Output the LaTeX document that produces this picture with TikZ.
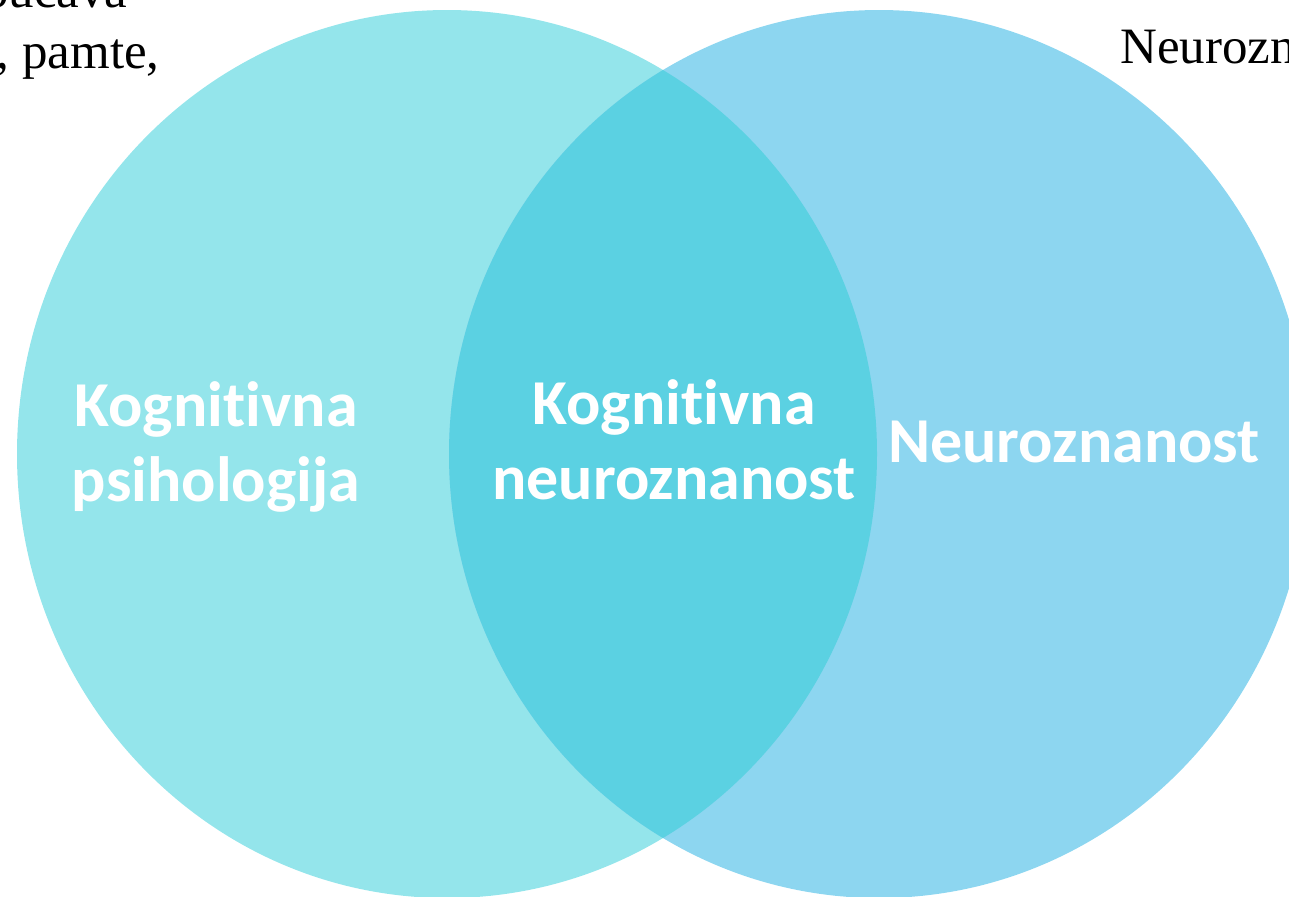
\documentclass[tikz,border=0pt]{standalone}
\usepackage{fontspec}
\setmainfont{Liberation Serif}
\newfontfamily\vennfont{Carlito}[Ligatures=NoCommon]

\definecolor{kpsiho}{HTML}{94E5EB}
\definecolor{kneuro}{HTML}{8DD6F0}
\definecolor{kpresjek}{HTML}{5BD1E2}

\tikzset{
  vennlabel/.style={text=white, align=center,
    font=\vennfont\bfseries\fontsize{32}{37.5}\selectfont},
  bodytext/.style={inner sep=0pt, font=\fontsize{25.5}{30.6}\selectfont}
}

\begin{document}
\begin{tikzpicture}[x=0.5pt,y=-0.5pt]
\useasboundingbox (0,0) rectangle (1289,896);
\clip (0,0) rectangle (1289,896);

% tekst oko dijagrama
\node[bodytext, anchor=base east] (gore1) at (128,7) {proučava};
\node[bodytext, anchor=base east] (gore2) at (160,68) {, pamte,};
\node[bodytext, anchor=base west] (desno) at (1120,63) {Neuroznanost};

% krugovi
\fill[kpsiho] (447,454) ellipse [x radius=430, y radius=444];
\fill[kneuro] (879,454) ellipse [x radius=430, y radius=444];
\begin{scope}
\clip (447,454) ellipse [x radius=430, y radius=444];
\fill[kpresjek] (879,454) ellipse [x radius=430, y radius=444];
\end{scope}

% oznake
\node[vennlabel] (psiho) at (216,447) {Kognitivna\\psihologija};
\node[vennlabel] (presjek) at (674,440) {Kognitivna\\neuroznanost};
\node[vennlabel, anchor=base] (neuro) at (1074,462) {Neuroznanost};
\end{tikzpicture}
\end{document}
